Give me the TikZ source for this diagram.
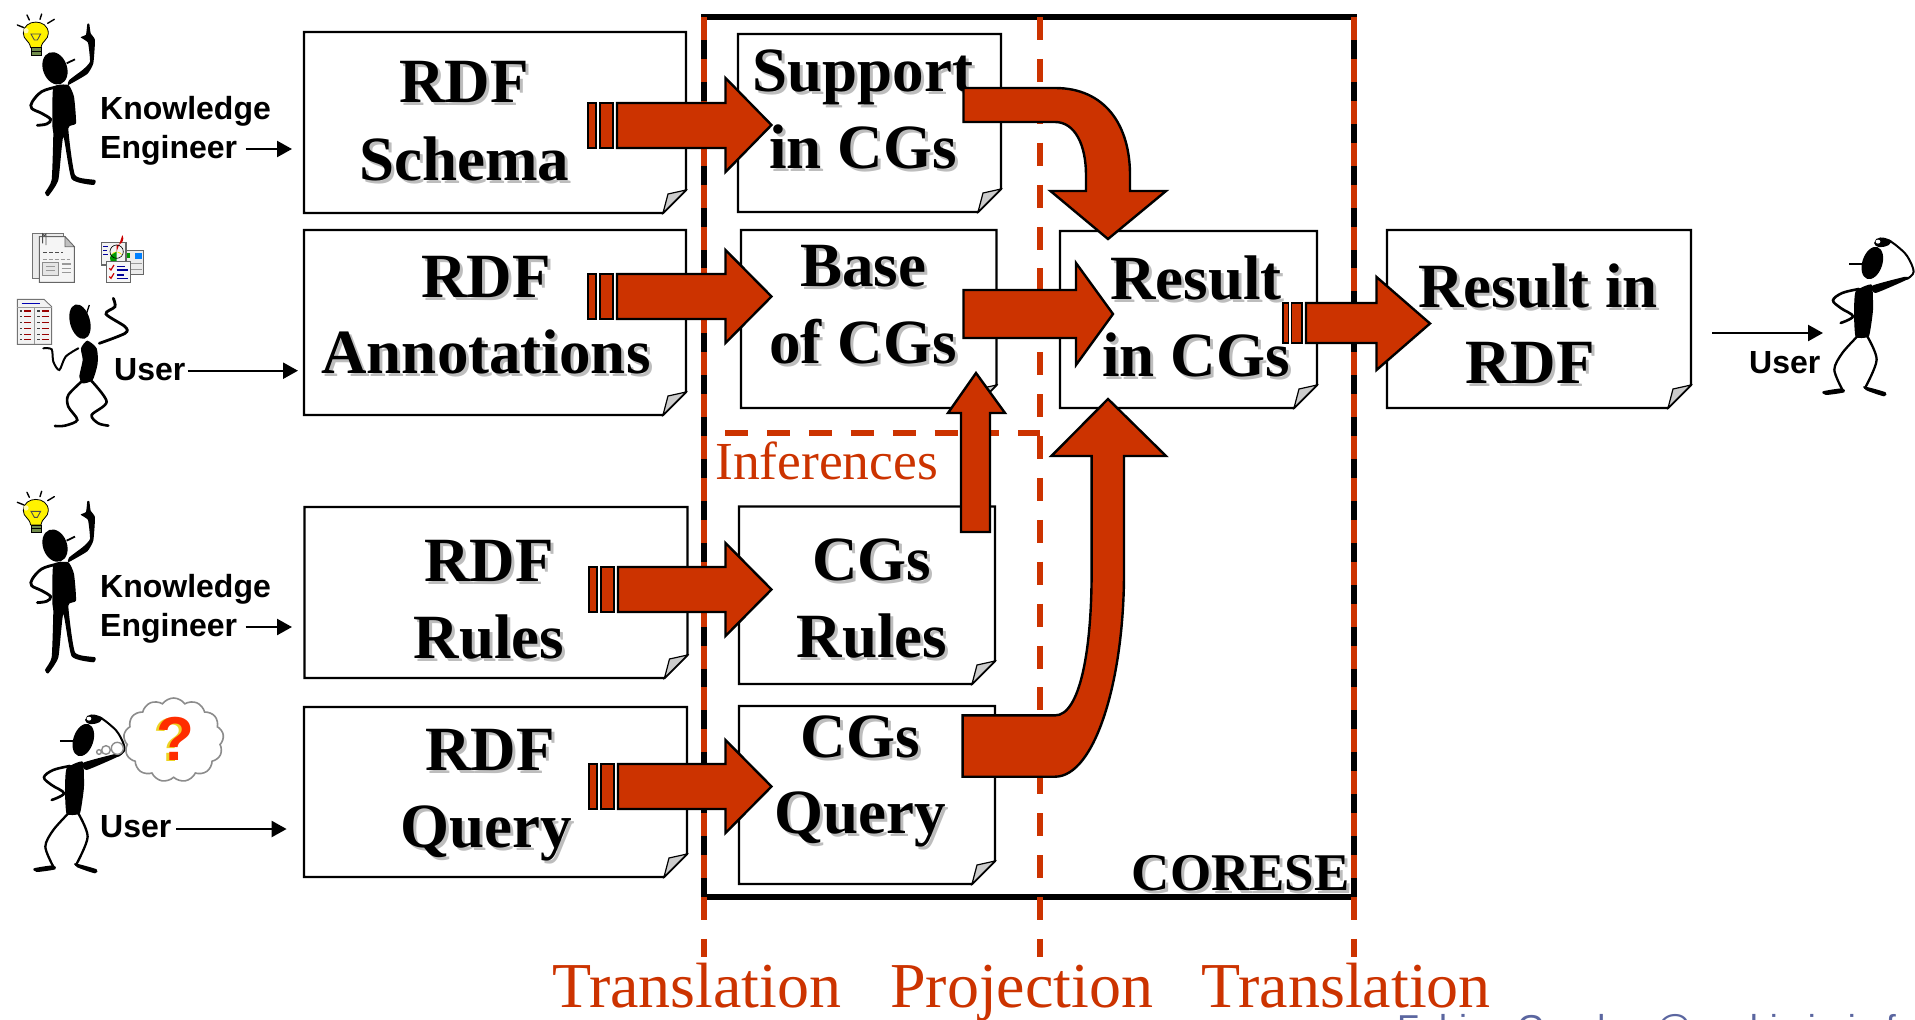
\documentclass[tikz,border=0pt]{standalone}
\usepackage{fontspec}
\setmainfont{Liberation Serif}
\newfontfamily\lsans{Liberation Sans}
\usetikzlibrary{arrows.meta,shapes.symbols}
\definecolor{brick}{HTML}{CC3300}
\definecolor{slateblue}{HTML}{5B66A0}
\definecolor{shadowgray}{HTML}{BDBDBD}
\newcommand\shd[1]{\leavevmode\rlap{\kern3pt\raisebox{-3pt}{\textcolor{shadowgray}{#1}}}#1}
\newcommand\twolines[3]{\vtop{\baselineskip=#1\lineskiplimit=-200pt\halign{\hfil##\hfil\cr #2\cr #3\cr}}}
\newcommand\docbox[4]{%
  \path[docshape] (#1,#2) -- (#3,#2) -- (#3,#4-23) -- (#3-23,#4) -- (#1,#4) -- cycle;
  \path[foldshape] (#3,#4-23) -- (#3-18,#4-19) -- (#3-23,#4) -- cycle;}
\newcommand\stubs[4]{% x1 x2 y1 y2
  \path[stubbar] (#1,#3) rectangle (#1+8,#4);
  \path[stubbar] (#1+12,#3) rectangle (#2,#4);}
\newcommand\hblock[7]{% start, headx, tipx, shaft top, shaft bot, head top, head bot
  \path[block] (#1,#4) -- (#2,#4) -- (#2,#6) -- (#3,{(#6+#7)/2}) -- (#2,#7) -- (#2,#5) -- (#1,#5) -- cycle;}
\newcommand\kefigure[2]{%
 \begin{scope}[shift={(#1,#2)},x=.3333pt,y=-.3333pt]
  \fill[rotate around={20:(165,205)}] (165,205) ellipse [x radius=36,y radius=50];
  \draw[line width=1.8pt] (200,190) -- (225,178);
  \fill plot[smooth cycle,tension=.3] coordinates {(160,262) (205,255) (222,290) (228,370) (205,385) (225,525) (285,540) (280,555) (215,537) (190,410) (175,540) (145,588) (135,578) (155,540) (160,400) (157,378)};
  \fill plot[smooth cycle,tension=.25] coordinates {(205,255) (262,222) (280,190) (285,120) (272,100) (268,72) (262,72) (258,104) (242,112) (264,128) (270,185) (250,208) (208,240)};
  \draw[line width=2.8pt,line cap=round] plot[smooth,tension=.6] coordinates {(165,262) (125,275) (97,305) (95,325) (125,340) (152,358) (140,372) (112,376)};
  % bulb
  \draw[line width=1.4pt,line cap=round] (52,75) -- (72,83) (81,45) -- (88,60) (125,42) -- (120,58) (163,58) -- (143,70);
  \draw[line width=.8pt,fill=yellow] (92,143) .. controls (88,120) and (70,120) .. (70,100) .. controls (70,55) and (145,55) .. (145,100) .. controls (145,120) and (127,120) .. (123,143) -- cycle;
  \fill[white!70!yellow] (78,92) circle (8);
  \draw[line width=.9pt,black!70] (93,102) -- (122,102) -- (112,120) -- (103,120) -- cycle;
  \fill[black!60!yellow!70!green] (93,143) rectangle (125,165);
  \draw[line width=.7pt] (93,143) rectangle (125,165) (93,154) -- (125,154);
 \end{scope}}
\newcommand\thinkfigure[2]{%
 \begin{scope}[shift={(#1,#2)},x=.3333pt,y=-.3333pt]
  \fill[rotate around={-18:(190,150)}] (190,150) ellipse [x radius=30,y radius=50];
  \draw[line width=1.8pt] (120,153) -- (165,153);
  \fill plot[smooth cycle,tension=.3] coordinates {(140,235) (188,215) (192,290) (185,345) (178,372) (140,372) (135,300)};
  \fill plot[smooth cycle,tension=.3] coordinates {(190,218) (285,192) (300,197) (200,240)};
  \draw[line width=2.3pt,line cap=round] plot[smooth,tension=.5] coordinates {(150,365) (100,420) (76,470) (100,530)};
  \draw[line width=2.3pt,line cap=round] plot[smooth,tension=.5] coordinates {(172,365) (203,440) (168,525)};
  \fill plot[smooth cycle,tension=.4] coordinates {(42,535) (100,526) (106,538) (50,546)};
  \fill plot[smooth cycle,tension=.4] coordinates {(165,520) (230,538) (225,550) (172,532)};
  \draw[line width=2pt,line cap=round] plot[smooth,tension=.6] coordinates {(295,197) (314,176) (295,130) (265,100) (240,82)};
  \draw[line width=1.6pt,fill=black] (238,94) .. controls (215,105) and (200,100) .. (198,90) .. controls (200,72) and (225,72) .. (245,85) -- cycle;
  \fill[white] (207,86) ellipse [x radius=7,y radius=6];
  \draw[line width=2.6pt,line cap=round] plot[smooth,tension=.6] coordinates {(150,228) (100,240) (72,262) (95,285) (132,310) (95,330)};
 \end{scope}}
\begin{document}
\begin{tikzpicture}[x=1pt,y=-1pt,
  docshape/.style={draw=black,fill=white,line width=2.2pt,line join=miter},
  foldshape/.style={draw=black,fill=black!20,line width=1.2pt,line join=miter},
  block/.style={draw=black,fill=brick,line width=2.4pt,line join=miter},
  stubbar/.style={draw=black,fill=brick,line width=1.6pt,line join=miter},
  bigtext/.style={inner sep=0pt,anchor=base,font=\fontsize{63}{77}\selectfont\bfseries},
  smalltext/.style={inner sep=0pt,anchor=base west,font=\fontsize{32}{39}\selectfont\lsans\bfseries},
  redtext/.style={inner sep=0pt,anchor=base west,text=brick,font=\fontsize{64}{77}\selectfont},
  thinarrow/.style={draw=black,line width=2.4pt,-{Triangle[length=15pt,width=16pt]}},
  reddash/.style={draw=brick,line width=5.5pt,dash pattern=on 23pt off 18.9pt}]
\useasboundingbox (0,0) rectangle (1915,1020);
\fill[white] (0,0) rectangle (1915,1020);

% CORESE frame and the dashed separators
\coordinate (tl) at (704,17); \coordinate (tm) at (1040,17); \coordinate (tr) at (1354,17);
\coordinate (bl) at (704,957); \coordinate (bm) at (1040,957); \coordinate (br) at (1354,957);
\coordinate (infl) at (725,433); \coordinate (infr) at (1040,433);
\draw[line width=5.5pt,line join=miter] (704,17) rectangle (1354,897);
\draw[reddash] (tl) -- (bl);
\draw[reddash] (tm) -- (bm);
\draw[reddash] (tr) -- (br);
\draw[reddash] (infl) -- (infr);

% documents
\docbox{304}{32}{686}{213}
\docbox{304}{230}{686}{415}
\docbox{304.5}{507}{687.5}{678}
\docbox{304}{707}{687}{877}
\docbox{738}{34}{1001}{212}
\docbox{741}{230}{996.5}{408}
\docbox{739}{506.5}{995}{684}
\docbox{739}{706}{995}{884}
\docbox{1060}{231}{1317}{408}
\docbox{1387}{230}{1691}{408}

% document titles
\node[bigtext] (tschema) at (464,102) {\twolines{78pt}{\shd{RDF}}{\shd{Schema}}};
\node[bigtext] (tannot) at (486,297) {\twolines{76pt}{\shd{RDF}}{\shd{Annotations}}};
\node[bigtext] (trules) at (489,581) {\twolines{77pt}{\shd{RDF}}{\shd{Rules}}};
\node[bigtext] (tquery) at (490,770) {\twolines{77pt}{\shd{RDF}}{\shd{Query}\hspace{8pt}}};
\node[bigtext] (tsupport) at (863,91) {\twolines{77pt}{\shd{Support}}{\shd{in CGs}}};
\node[bigtext] (tbase) at (863,286) {\twolines{77pt}{\shd{Base}}{\shd{of CGs}}};
\node[bigtext] (tcgrules) at (872,580) {\twolines{77pt}{\shd{CGs}}{\shd{Rules}}};
\node[bigtext] (tcgquery) at (860.5,757) {\twolines{76pt}{\shd{CGs}}{\shd{Query}}};
\node[bigtext] (tresult) at (1196,299) {\twolines{77pt}{\shd{Result}}{\shd{in CGs}}};
\node[bigtext] (tresrdf) at (1534,307) {\twolines{76pt}{\hspace{8pt}\shd{Result in}}{\shd{RDF}\hspace{8pt}}};
\node[inner sep=0pt,anchor=base east,font=\fontsize{53}{60}\selectfont\bfseries] (tcorese) at (1350,890) {\shd{CORESE}};

% red labels
\node[inner sep=0pt,anchor=base west,text=brick,font=\fontsize{53.5}{60}\selectfont] (tinf) at (715,479) {Inferences};
\node[redtext] (ttr1) at (552,1007) {Translation};
\node[redtext] (tproj) at (890,1007) {Projection};
\node[redtext] (ttr2) at (1201.5,1007) {Translation};

% clipped footer
\begin{scope}
 \clip (0,0) rectangle (1915,1020);
 \node[inner sep=0pt,anchor=base west,text=slateblue,font=\fontsize{36}{40}\selectfont\lsans] (tfoot) at (1397,1040) {Fabien Gandon @sophia.inria.fr};
\end{scope}

% block arrows
\stubs{588}{613}{103}{148}
\hblock{617}{725.5}{771.5}{103}{148}{78}{172}
\stubs{588}{613}{274}{319}
\hblock{617}{725.5}{771.5}{274}{319}{250}{343}
\stubs{589}{614}{567}{612}
\hblock{618}{725.5}{771.5}{567}{612}{543}{636}
\stubs{589}{614}{764}{809}
\hblock{618}{725.5}{771.5}{764}{809}{740}{833}
\hblock{963.5}{1076}{1113}{290}{338}{263}{365}
\path[stubbar,line width=1.1pt] (1283,303) rectangle (1288.5,343);
\path[stubbar,line width=1.1pt] (1291.6,303) rectangle (1302,343);
\hblock{1306}{1376.5}{1430}{303}{343}{277}{370}
\path[block] (961,532) -- (961,413) -- (948,413) -- (976,373) -- (1005,413) -- (990,413) -- (990,532) -- cycle;
\path[block] (963.5,88) -- (1055,88) .. controls (1105,88) and (1130,125) .. (1130,175) -- (1130,191) -- (1166,191) -- (1108,239) -- (1050.5,191) -- (1086,191) -- (1086,175) .. controls (1086,145) and (1075,122) .. (1055,122) -- (963.5,122) -- cycle;
\path[block] (962.6,715.4) -- (1055,715.4) .. controls (1080,715.4) and (1091.6,650) .. (1091.6,573) -- (1091.6,456) -- (1051.4,456) -- (1108,399) -- (1166,456) -- (1124,456) -- (1124,573) .. controls (1124,680) and (1095,776.7) .. (1055,776.7) -- (962.6,776.7) -- cycle;

% people labels and thin arrows
\node[smalltext,align=left] (ke1) at (100,119) {\vtop{\baselineskip=39pt\lineskiplimit=-50pt\hbox{Knowledge}\hbox{Engineer}}};
\node[smalltext,align=left] (ke2) at (100,597) {\vtop{\baselineskip=39pt\lineskiplimit=-50pt\hbox{Knowledge}\hbox{Engineer}}};
\node[smalltext] (u1) at (114,380) {User};
\node[smalltext] (u2) at (100,837) {User};
\node[smalltext] (u3) at (1749,373) {User};
\coordinate (a1s) at (245.5,149); \coordinate (a1e) at (292,149);
\coordinate (a2s) at (187.5,370.7); \coordinate (a2e) at (298,370.7);
\coordinate (a3s) at (245.5,627); \coordinate (a3e) at (292,627);
\coordinate (a4s) at (176,829); \coordinate (a4e) at (286.6,829);
\coordinate (a5s) at (1712,333); \coordinate (a5e) at (1823,333);
\draw[thinarrow] (a1s) -- (a1e);
\draw[thinarrow] (a2s) -- (a2e);
\draw[thinarrow] (a3s) -- (a3e);
\draw[thinarrow] (a4s) -- (a4e);
\draw[thinarrow] (a5s) -- (a5e);

% figures
\kefigure{0}{0}
\kefigure{0}{477.3}
\thinkfigure{20}{690}
\thinkfigure{1809}{213}

% thought cloud
\begin{scope}[shift={(20,690)},x=.3333pt,y=-.3333pt]
  \node[cloud,cloud puffs=13,cloud puff arc=110,aspect=1.2,draw=black!45,fill=white,line width=1.6pt,minimum width=100pt,minimum height=84pt,inner sep=0pt] (thought) at (461,150) {};
  \draw[black!45,fill=white,line width=1.4pt] (292,175) circle (18);
  \draw[black!45,fill=white,line width=1.4pt] (258,180) circle (13);
  \draw[black!45,fill=white,line width=1.4pt] (237,186) circle (7);
  \node[inner sep=0pt,font=\fontsize{62}{62}\selectfont\lsans\bfseries] (qm) at (465,148) {\rlap{\kern-2.5pt\raisebox{-1.5pt}{\textcolor{yellow!70!brown}{?}}}\textcolor{red!65!orange}{?}};
\end{scope}

% document icons (annotations)
\begin{scope}[shift={(0,220)},x=.3333pt,y=-.3333pt]
  % page with clip
  \draw[black!55,fill=black!8,line width=.8pt] (97,40) -- (190,40) -- (190,175) -- (97,175) -- cycle;
  \draw[black!60,fill=black!4,line width=1pt] (118,50) -- (195,50) -- (223,80) -- (223,187) -- (118,187) -- cycle;
  \draw[black!60,fill=black!25,line width=.7pt] (195,50) -- (195,80) -- (223,80) -- cycle;
  \draw[black!70,line width=.9pt] (128,70) -- (128,42) arc (180:0:5) -- (138,75);
  \draw[black!70,line width=1.2pt,dash pattern=on 4pt off 2pt] (130,97) -- (188,97);
  \draw[black!40,line width=1.2pt,dash pattern=on 4pt off 2pt] (128,118) -- (210,118);
  \draw[black!45,fill=black!10,line width=.7pt] (128,128) rectangle (176,165);
  \draw[black!40,line width=1.2pt] (185,132) -- (212,132) (185,145) -- (212,145) (185,158) -- (212,158) (138,140) -- (166,140) (138,152) -- (166,152);
  % chart sheets
  \draw[black!60,fill=black!8,line width=.9pt] (378,92) rectangle (430,162);
  \fill[blue!50!cyan] (405,100) rectangle (427,118);
  \fill[green!60!black] (380,100) rectangle (390,115);
  \draw[black!40,line width=1.2pt] (385,130) -- (425,130) (385,148) -- (425,148);
  \draw[black!60,fill=black!5,line width=1.2pt] (305,68) rectangle (378,135);
  \fill[red!80!black] (350,95) -- (350,75) arc (90:-30:20) -- cycle;
  \fill[yellow!90!orange] (350,95) -- (367,105) arc (-30:-150:20) -- cycle;
  \fill[green!60!black] (350,95) -- (333,105) arc (210:90:20) -- cycle;
  \draw[line width=.6pt] (350,95) circle (20);
  \draw[blue!60!black,line width=1.1pt] (310,80) -- (325,80) (310,92) -- (322,92) (310,104) -- (325,104);
  \draw[black!60,fill=black!3,line width=1.4pt] (320,125) rectangle (392,187);
  \draw[red!80!black,line width=1.2pt] (328,145) -- (333,150) -- (342,135) (328,170) -- (333,175) -- (342,160);
  \draw[blue!60!black,line width=1.2pt] (350,140) -- (375,140) (350,150) -- (385,150) (350,165) -- (372,165) (350,176) -- (385,176);
  % table sheet
  \draw[black!55,fill=black!5,line width=.9pt] (52,238) -- (132,238) -- (155,260) -- (155,373) -- (52,373) -- cycle;
  \draw[blue!70!black,line width=1.6pt] (65,250) -- (120,250);
  \draw[black!40,line width=.7pt] (52,262) -- (155,262) (103,262) -- (103,373);
  \foreach \yy in {273,290,307,325,343,358} {
    \draw[black!75,line width=1.1pt] (60,\yy) -- (67,\yy) (112,\yy) -- (119,\yy);
    \draw[red!60!black,line width=1.3pt] (73,\yy) -- (92,\yy) (125,\yy) -- (146,\yy);}
\end{scope}

% user with sheets
\begin{scope}[shift={(0,220)},x=.3333pt,y=-.3333pt]
  \fill[rotate around={15:(240,305)}] (240,305) ellipse [x radius=30,y radius=53];
  \draw[line width=1.3pt] (268,255) -- (258,285);
  \fill plot[smooth cycle,tension=.4] coordinates {(262,362) (290,385) (293,430) (278,480) (248,490) (238,470) (248,420) (243,385)};
  \draw[line width=2.6pt,line cap=round] plot[smooth,tension=.5] coordinates {(250,480) (205,525) (205,560) (232,600) (195,617) (165,618)};
  \draw[line width=2.6pt,line cap=round] plot[smooth,tension=.5] coordinates {(272,480) (320,545) (275,585) (295,610) (325,617)};
  \draw[line width=2.8pt,line cap=round] plot[smooth,tension=.5] coordinates {(298,370) (375,340) (375,320) (318,282) (345,260) (340,235)};
  \draw[line width=2pt,line cap=round] plot[smooth,tension=.5] coordinates {(235,385) (197,410) (178,450) (160,425) (155,388) (130,385)};
\end{scope}
\end{tikzpicture}
\end{document}
